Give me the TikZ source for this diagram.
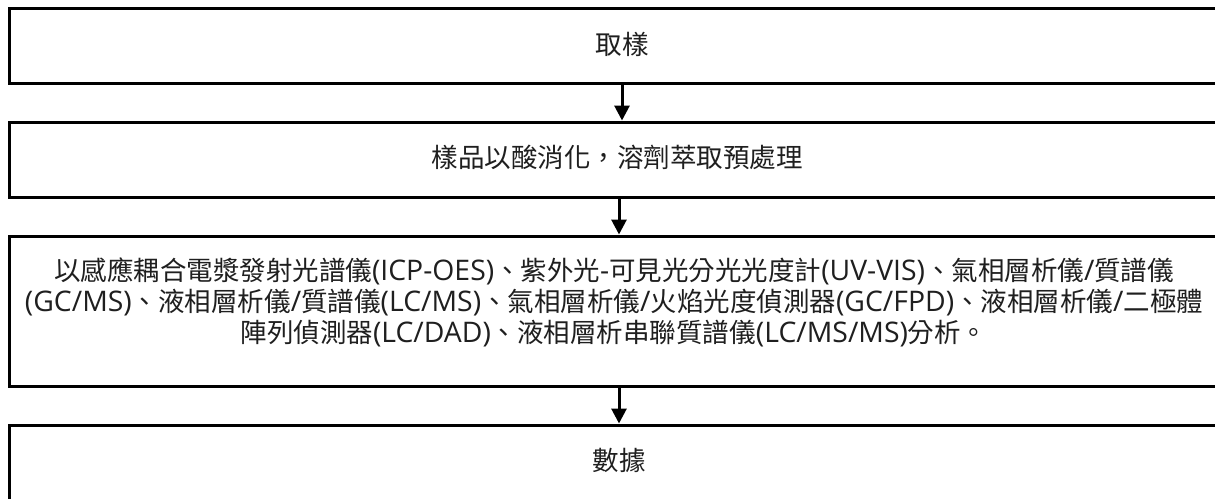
\documentclass[tikz,border=0pt]{standalone}
\usepackage{fontspec}
\setmainfont[Script=CJK,Language=Chinese Traditional]{Noto Sans CJK TC}
\newfontfamily\latinfam[Scale=1.07]{Open Sans}
\newcommand{\lt}[1]{{\latinfam #1}}
\usetikzlibrary{arrows.meta}
\begin{document}
\begin{tikzpicture}[x=1pt,y=-1pt,
  box/.style={draw=black,line width=3pt,rectangle,inner sep=0pt,minimum width=1221.5pt},
  txt/.style={inner sep=0pt,align=center,font=\fontsize{26.5pt}{31pt}\selectfont,text=black!88},
  arr/.style={line width=3pt,-{Triangle[width=15pt,length=15pt]}}]
\useasboundingbox (0,0) rectangle (1215,498);
\fill[white] (0,0) rectangle (1215,498);
\node[box,minimum height=75pt] (b1) at (620.25,46) {};
\node[box,minimum height=75pt] (b2) at (620.25,159.5) {};
\node[box,minimum height=150pt] (b3) at (620.25,311) {};
\node[box,minimum height=80pt] (b4) at (620.25,465) {};
\node[txt] (t1) at (622,44) {取樣};
\node[txt] (t2) at (617,157) {樣品以酸消化，溶劑萃取預處理};
\node[txt] (t3) at (614,302) {以感應耦合電漿發射光譜儀\lt{(ICP-OES)}、紫外光\lt{-}可見光分光光度計\lt{(UV-VIS)}、氣相層析儀\lt{/}質譜儀\\\lt{(GC/MS)}、液相層析儀\lt{/}質譜儀\lt{(LC/MS)}、氣相層析儀\lt{/}火焰光度偵測器\lt{(GC/FPD)}、液相層析儀\lt{/}二極體\\陣列偵測器\lt{(LC/DAD)}、液相層析串聯質譜儀\lt{(LC/MS/MS)}分析。};
\node[txt] (t4) at (619,460) {數據};
\coordinate (a1) at (622,0);
\coordinate (a2) at (619,0);
\draw[arr] (b1.south -| a1) -- (b2.north -| a1);
\draw[arr] (b2.south -| a2) -- (b3.north -| a2);
\draw[arr] (b3.south -| a2) -- (b4.north -| a2);
\end{tikzpicture}
\end{document}
